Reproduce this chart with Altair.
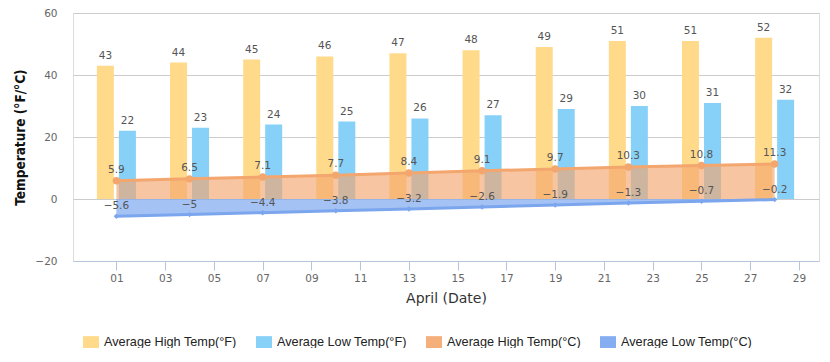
import altair as alt
import pandas as pd

days = [1, 4, 7, 10, 13, 16, 19, 22, 25, 28]
high_f = [43, 44, 45, 46, 47, 48, 49, 51, 51, 52]
low_f = [22, 23, 24, 25, 26, 27, 29, 30, 31, 32]
high_c = [5.9, 6.5, 7.1, 7.7, 8.4, 9.1, 9.7, 10.3, 10.8, 11.3]
low_c = [-5.6, -5, -4.4, -3.8, -3.2, -2.6, -1.9, -1.3, -0.7, -0.2]

series_names = ["Average High Temp(°F)", "Average Low Temp(°F)",
                "Average High Temp(°C)", "Average Low Temp(°C)"]
series_colors = ["#FFDA8A", "#87D1F8", "#F4AF7B", "#85ADF2"]
tick_days = [1, 3, 5, 7, 9, 11, 13, 15, 17, 19, 21, 23, 25, 27, 29]

rows = []
for name, vals in zip(series_names, [high_f, low_f, high_c, low_c]):
    for d, v in zip(days, vals):
        rows.append({"day": d, "series": name, "value": v})
df = pd.DataFrame(rows)

FONT = "DejaVu Sans"
YDOM = [-20, 60]

x = alt.X("day:Q",
          scale=alt.Scale(domain=[-0.78, 29.82], nice=False, zero=False, padding=0),
          axis=alt.Axis(values=tick_days, title="April (Date)",
                        labelExpr="datum.value < 10 ? '0' + datum.value : '' + datum.value",
                        grid=False, domainColor="#B6C5DC", tickColor="#B6C5DC",
                        tickSize=9, labelPadding=3, labelFont=FONT, labelFontSize=10.5,
                        labelColor="#666", titleFont=FONT, titleFontSize=14,
                        titleFontWeight="normal", titleColor="#333", titlePadding=8))
y = alt.Y("value:Q",
          scale=alt.Scale(domain=YDOM, nice=False, padding=0),
          axis=alt.Axis(values=[-20, 0, 20, 40, 60], title="Temperature (°F/°C)",
                        domain=False, ticks=False, gridColor="#CCCCCC",
                        labelPadding=16, labelFont=FONT, labelFontSize=10.5,
                        labelColor="#666", titleFont="DejaVu Sans Condensed",
                        titleFontSize=13.5, titleFontWeight="bold", titleColor="#111",
                        titleX=-46))

color_legend = alt.Color(
    "series:N",
    scale=alt.Scale(domain=series_names, range=series_colors),
    legend=alt.Legend(title=None, orient="none", direction="horizontal",
                      legendX=10, legendY=321, columns=4, columnPadding=19,
                      symbolType="M-1,-0.75H1V0.75H-1Z", symbolSize=256,
                      symbolStrokeWidth=0, symbolOpacity=1, labelOffset=5,
                      labelFont="Liberation Sans", labelFontSize=12.7,
                      labelColor="#222"))
color_plain = alt.Color("series:N",
                        scale=alt.Scale(domain=series_names, range=series_colors),
                        legend=None)

base = alt.Chart(df)


def only(name):
    return alt.datum.series == name


bar_hi = base.transform_filter(only(series_names[0])).mark_bar(
    width=17, xOffset=-11).encode(x=x, y=y, color=color_legend)
bar_lo = base.transform_filter(only(series_names[1])).mark_bar(
    width=17, xOffset=11).encode(x=x, y=y, color=color_plain)

lbl_hi = base.transform_filter(only(series_names[0])).mark_text(
    xOffset=-11, dy=-5, baseline="bottom", font=FONT, fontSize=10.5, color="#555"
).encode(x=x, y=y, text="value:Q")
lbl_lo = base.transform_filter(only(series_names[1])).mark_text(
    xOffset=11, dy=-5, baseline="bottom", font=FONT, fontSize=10.5, color="#555"
).encode(x=x, y=y, text="value:Q")

y_area = alt.Y("value:Q", stack=None, scale=alt.Scale(domain=YDOM, nice=False, padding=0))
area_hi = base.transform_filter(only(series_names[2])).mark_area(
    opacity=0.65, color="#F3A66E").encode(x=x, y=y_area, y2=alt.Y2(datum=0))
area_lo = base.transform_filter(only(series_names[3])).mark_area(
    opacity=0.7, color="#7EA8F0").encode(x=x, y=y_area, y2=alt.Y2(datum=0))

line_hi = base.transform_filter(only(series_names[2])).mark_line(
    strokeWidth=3, color="#F3A66E").encode(x=x, y=y)
line_lo = base.transform_filter(only(series_names[3])).mark_line(
    strokeWidth=3, color="#7BA6EE").encode(x=x, y=y)

pt_hi = base.transform_filter(only(series_names[2])).mark_point(
    shape="circle", filled=True, size=55, opacity=1, color="#F3A66E").encode(x=x, y=y)
pt_lo = base.transform_filter(only(series_names[3])).mark_point(
    shape="diamond", filled=True, size=30, opacity=1, color="#7BA6EE").encode(x=x, y=y)

lbl_c_hi = base.transform_filter(only(series_names[2])).mark_text(
    dy=-11, font=FONT, fontSize=10.5, color="#555").encode(x=x, y=y, text="value:Q")
lbl_c_lo = base.transform_filter(only(series_names[3])).mark_text(
    dy=-10, font=FONT, fontSize=10.5, color="#555").encode(x=x, y=y, text="value:Q")

chart = alt.layer(
    bar_hi, bar_lo, lbl_hi, lbl_lo, area_hi, area_lo, line_hi, line_lo,
    pt_hi, pt_lo, lbl_c_hi, lbl_c_lo
).properties(
    width=746, height=248,
    autosize=alt.AutoSizeParams(type="none"),
    padding={"left": 65, "top": 5, "right": 3, "bottom": 87},
).configure_view(stroke=None).configure(background="white")

chart.save("out.html", embed_options={"renderer": "svg", "actions": False})
